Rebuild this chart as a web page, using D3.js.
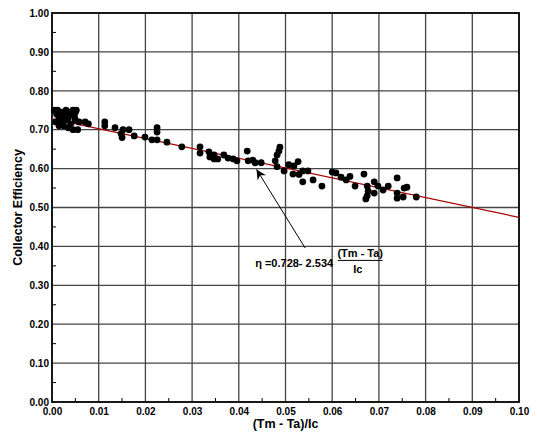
<!DOCTYPE html>
<html><head><meta charset="utf-8">
<script src="https://cdn.jsdelivr.net/npm/d3@7"></script>
<style>body{margin:0;background:#fff}svg{display:block}text{font-family:"Liberation Sans",Arial,sans-serif;font-weight:bold}</style>
</head><body><svg id="c" width="537" height="433"></svg>
<script>
const xTicks = [0,0.01,0.02,0.03,0.04,0.05,0.06,0.07,0.08,0.09,0.10];
const yTicks = [0,0.1,0.2,0.3,0.4,0.5,0.6,0.7,0.8,0.9,1.0];
const xLabel = "(Tm - Ta)/Ic";
const yLabel = "Collector Efficiency";
const fitIntercept = 0.728, fitSlope = -2.534;
const pointsX = [0.0005,0.0012,0.002,0.001,0.0025,0.003,0.0035,0.0045,0.0052,0.004,0.0048,0.0015,0.003,0.002,0.0008,0.0015,0.004,0.0035,0.005,0.0045,0.0055,0.0035,0.0058,0.0025,0.005,
0.0071,0.0078,0.0113,0.0113,0.0135,0.0148,0.0152,0.0165,0.015,
0.0176,0.0199,0.0214,0.0225,0.0225,0.0225,0.0246,0.0278,
0.0317,0.0317,0.0336,0.0338,0.0347,0.0347,0.0355,0.0368,0.0377,0.0388,0.0396,
0.0418,0.042,0.043,0.0435,0.0448,
0.0478,0.0482,0.0486,0.0488,0.0482,0.0497,0.0507,0.0516,0.0518,0.0527,0.0529,0.0537,0.0537,0.0548,0.0559,0.0578,
0.060,0.0608,0.0619,0.063,0.0638,0.0649,
0.0668,0.0675,0.0677,0.0675,0.0672,0.069,0.069,0.0698,0.0709,0.072,0.0739,0.0739,0.0739,0.0752,0.0754,0.076,0.078];
const pointsY = [0.75,0.75,0.745,0.74,0.735,0.75,0.745,0.75,0.75,0.74,0.735,0.73,0.725,0.72,0.72,0.71,0.715,0.73,0.725,0.70,0.70,0.705,0.72,0.71,0.745,
0.72,0.715,0.72,0.71,0.705,0.69,0.70,0.70,0.68,
0.684,0.681,0.674,0.674,0.705,0.694,0.668,0.656,
0.656,0.640,0.643,0.630,0.635,0.625,0.625,0.635,0.627,0.625,0.620,
0.645,0.620,0.622,0.615,0.615,
0.620,0.635,0.645,0.655,0.605,0.594,0.610,0.586,0.607,0.618,0.585,0.566,0.594,0.594,0.571,0.555,
0.591,0.589,0.578,0.571,0.580,0.555,
0.586,0.555,0.542,0.530,0.522,0.566,0.537,0.555,0.545,0.555,0.576,0.537,0.524,0.527,0.550,0.552,0.527];

const W=537,H=433, m={l:52,r:18,t:13,b:31};
const svg=d3.select("#c");
const x=d3.scaleLinear().domain([0,0.1]).range([m.l,W-m.r]);
const y=d3.scaleLinear().domain([0,1]).range([H-m.b,m.t]);

// grid
const g=svg.append("g");
g.selectAll(".vg").data(xTicks.slice(1,-1)).join("line").attr("x1",d=>x(d)).attr("x2",d=>x(d)).attr("y1",y(0)).attr("y2",y(1)).attr("stroke","#444").attr("stroke-width",1.3);
g.selectAll(".hg").data(yTicks.slice(1,-1)).join("line").attr("y1",d=>y(d)).attr("y2",d=>y(d)).attr("x1",x(0)).attr("x2",x(0.1)).attr("stroke","#444").attr("stroke-width",1.3);

// minor ticks
const xMinor=d3.range(0.005,0.1,0.01), yMinor=d3.range(0.05,1,0.1);
g.selectAll(".xm").data(xMinor).join("line").attr("x1",d=>x(d)).attr("x2",d=>x(d)).attr("y1",y(0)).attr("y2",y(0)-4).attr("stroke","#000").attr("stroke-width",1);
g.selectAll(".ym").data(yMinor).join("line").attr("y1",d=>y(d)).attr("y2",d=>y(d)).attr("x1",x(0)).attr("x2",x(0)+4).attr("stroke","#000").attr("stroke-width",1);

// axes labels
svg.append("g").attr("transform",`translate(0,${y(0)})`).call(d3.axisBottom(x).tickValues(xTicks).tickFormat(d3.format(".2f")).tickSize(0).tickPadding(6))
  .call(a=>a.select(".domain").remove()).selectAll("text").attr("font-size",10).attr("font-weight","bold").attr("font-family","Liberation Sans, Arial, sans-serif").attr("fill","#000");
svg.append("g").attr("transform",`translate(${x(0)},0)`).call(d3.axisLeft(y).tickValues(yTicks).tickFormat(d3.format(".2f")).tickSize(0).tickPadding(3))
  .call(a=>a.select(".domain").remove()).selectAll("text").attr("font-size",10).attr("font-weight","bold").attr("font-family","Liberation Sans, Arial, sans-serif").attr("fill","#000");

// frame
svg.append("rect").attr("x",x(0)).attr("y",y(1)).attr("width",x(0.1)-x(0)).attr("height",y(0)-y(1)).attr("fill","none").attr("stroke","#000").attr("stroke-width",1.8);

// fit line
svg.append("line").attr("x1",x(0)).attr("y1",y(fitIntercept)).attr("x2",x(0.1)).attr("y2",y(fitIntercept+fitSlope*0.1)).attr("stroke","#a80000").attr("stroke-width",1.2);

// points
svg.append("g").selectAll("circle").data(pointsX.map((v,i)=>[v,pointsY[i]])).join("circle")
  .attr("cx",d=>x(d[0])).attr("cy",d=>y(d[1])).attr("r",3.4).attr("fill","#000");

// arrow annotation
const defs=svg.append("defs");
defs.append("marker").attr("id","ah").attr("viewBox","0 0 10 10").attr("refX",10).attr("refY",5).attr("markerWidth",10).attr("markerHeight",10).attr("markerUnits","userSpaceOnUse").attr("orient","auto")
  .append("path").attr("d","M0,0 L10,5 L0,10 L3,5 Z").attr("fill","#000");
svg.append("line").attr("x1",x(0.0542)).attr("y1",y(0.396)).attr("x2",x(0.0438)).attr("y2",y(0.598)).attr("stroke","#000").attr("stroke-width",1).attr("marker-end","url(#ah)");

svg.append("text").attr("x",x(0.0435)).attr("y",y(0.348)).attr("font-size",11).text("η =0.728- 2.534");
svg.append("text").attr("x",x(0.066)).attr("y",y(0.374)).attr("font-size",11).attr("text-anchor","middle").text("(Tm - Ta)");
svg.append("line").attr("x1",x(0.0612)).attr("x2",x(0.0708)).attr("y1",y(0.364)).attr("y2",y(0.364)).attr("stroke","#000").attr("stroke-width",1);
svg.append("text").attr("x",x(0.0655)).attr("y",y(0.332)).attr("font-size",11).attr("text-anchor","middle").text("Ic");

// titles
svg.append("text").attr("x",(x(0)+x(0.1))/2).attr("y",H-5).attr("font-size",12.5).attr("text-anchor","middle").text(xLabel);
svg.append("text").attr("transform",`translate(22,${(y(0)+y(1))/2}) rotate(-90)`).attr("font-size",12.5).attr("text-anchor","middle").text(yLabel);
</script></body></html>
